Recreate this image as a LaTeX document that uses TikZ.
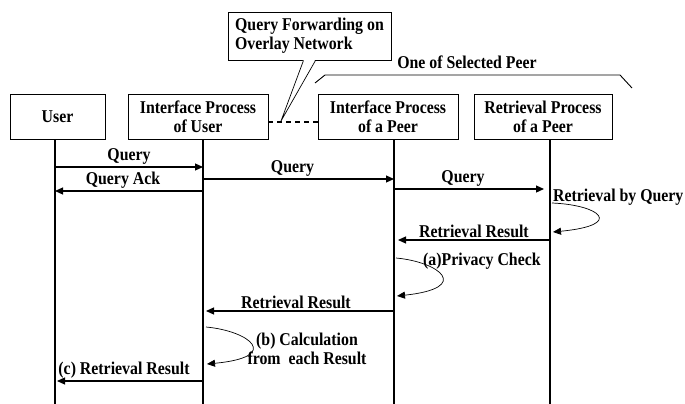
\documentclass[tikz,border=0pt]{standalone}
\usepackage{fontspec}
\setmainfont{Liberation Serif}[FakeStretch=0.88]
\usetikzlibrary{arrows.meta}
\newcommand{\boxfont}{\fontsize{18}{19}\selectfont\bfseries}
\tikzset{
  procbox/.style={draw, line width=0.9pt, minimum height=45pt, align=center, inner sep=2pt, font=\boxfont},
  lifeline/.style={line width=2.3pt},
  msg/.style={line width=1.2pt, -{Triangle[length=8pt,width=7pt]}},
  selfmsg/.style={line width=0.7pt, -{Triangle[length=8pt,width=7pt]}},
  lbl/.style={font=\boxfont, inner sep=2pt}
}
\begin{document}
\begin{tikzpicture}[x=1pt,y=-1pt]
 \useasboundingbox (0,0) rectangle (685,404);

 % processes
 \node[procbox, minimum width=95pt] (user) at (57.5,116.5) {User};
 \node[procbox, minimum width=140pt] (ifu) at (198,116.5) {Interface Process\\of User};
 \node[procbox, minimum width=140pt] (ifp) at (388,117) {Interface Process\\of a Peer};
 \node[procbox, minimum width=138pt] (rtp) at (543,117) {Retrieval Process\\of a Peer};

 % lifelines
 \coordinate (ul) at (55,139);  \coordinate (ue) at (55,404);
 \coordinate (il) at (203,139); \coordinate (ie) at (203,404);
 \coordinate (pl) at (394,139); \coordinate (pe) at (394,404);
 \coordinate (rl) at (550,139); \coordinate (re) at (550,404);
 \draw[lifeline] (ul) -- (ue);
 \draw[lifeline] (il) -- (ie);
 \draw[lifeline] (pl) -- (pe);
 \draw[lifeline] (rl) -- (re);

 % overlay network
 \coordinate (dl) at (268,122); \coordinate (dr) at (318,122);
 \coordinate (fwd) at (281,121);
 \draw[line width=2.5pt, dash pattern=on 5pt off 4pt] (dl) -- (dr);
 \node[draw, line width=0.9pt, align=left, font=\boxfont,
       minimum width=163pt, minimum height=48pt, inner sep=3pt] (fwdnote) at (309.5,36)
       {Query Forwarding on\\Overlay Network};
 \fill[white] ([xshift=-6pt,yshift=1.5pt]fwdnote.south) -- (fwd) -- ([xshift=6pt,yshift=1.5pt]fwdnote.south) -- cycle;
 \draw[line width=0.7pt] ([xshift=-6pt]fwdnote.south) -- (fwd) -- ([xshift=6pt]fwdnote.south);

 % selected peer
 \draw[line width=0.9pt] (315,83) -- (325,75) -- (620,75) -- (632,88);
 \node[lbl] (sel) at (467,62) {One of Selected Peer};

 % messages
 \coordinate (t1) at (0,167); \coordinate (t2) at (0,191);
 \coordinate (t3) at (0,179); \coordinate (t4) at (0,189);
 \coordinate (t5) at (0,240); \coordinate (t6) at (0,311);
 \coordinate (t7) at (0,381);
 \draw[msg] (ul |- t1) -- node[lbl, above] {Query} (il |- t1);
 \draw[msg] (il |- t2) -- node[lbl, above, xshift=-6pt] {Query Ack} (ul |- t2);
 \draw[msg] (il |- t3) -- node[lbl, above, xshift=-6pt] {Query} (pl |- t3);
 \draw[msg] (pl |- t4) -- node[lbl, above, xshift=-6pt] {Query} ([xshift=-6pt]rl |- t4);
 \draw[msg] (rl |- t5) -- node[lbl, above] {Retrieval Result} ([xshift=4pt]pl |- t5);
 \draw[msg] (pl |- t6) -- node[lbl, above, xshift=-4pt] {Retrieval Result} ([xshift=3pt]il |- t6);
 \draw[msg] (il |- t7) -- node[lbl, above, xshift=-6pt] {(c) Retrieval Result} ([xshift=2pt]ul |- t7);

 % local processing
 \coordinate (ra) at (552,203); \coordinate (rb) at (553,232);
 \draw[selfmsg] (ra) .. controls (600,205) and (625,225) .. (rb);
 \node[lbl, anchor=west] (rq) at (551,197) {Retrieval by Query};
 \coordinate (pa) at (396,258); \coordinate (pb) at (397,296);
 \draw[selfmsg] (pa) .. controls (440,262) and (472,288) .. (pb);
 \node[lbl, anchor=west] (pc) at (421,261) {(a)Privacy Check};
 \coordinate (ia) at (206,327); \coordinate (ib) at (207,364);
 \draw[selfmsg] (ia) .. controls (250,331) and (282,357) .. (ib);
 \node[lbl, align=center] (calc) at (307,349) {(b) Calculation\\from\ \ each Result};

\end{tikzpicture}
\end{document}
